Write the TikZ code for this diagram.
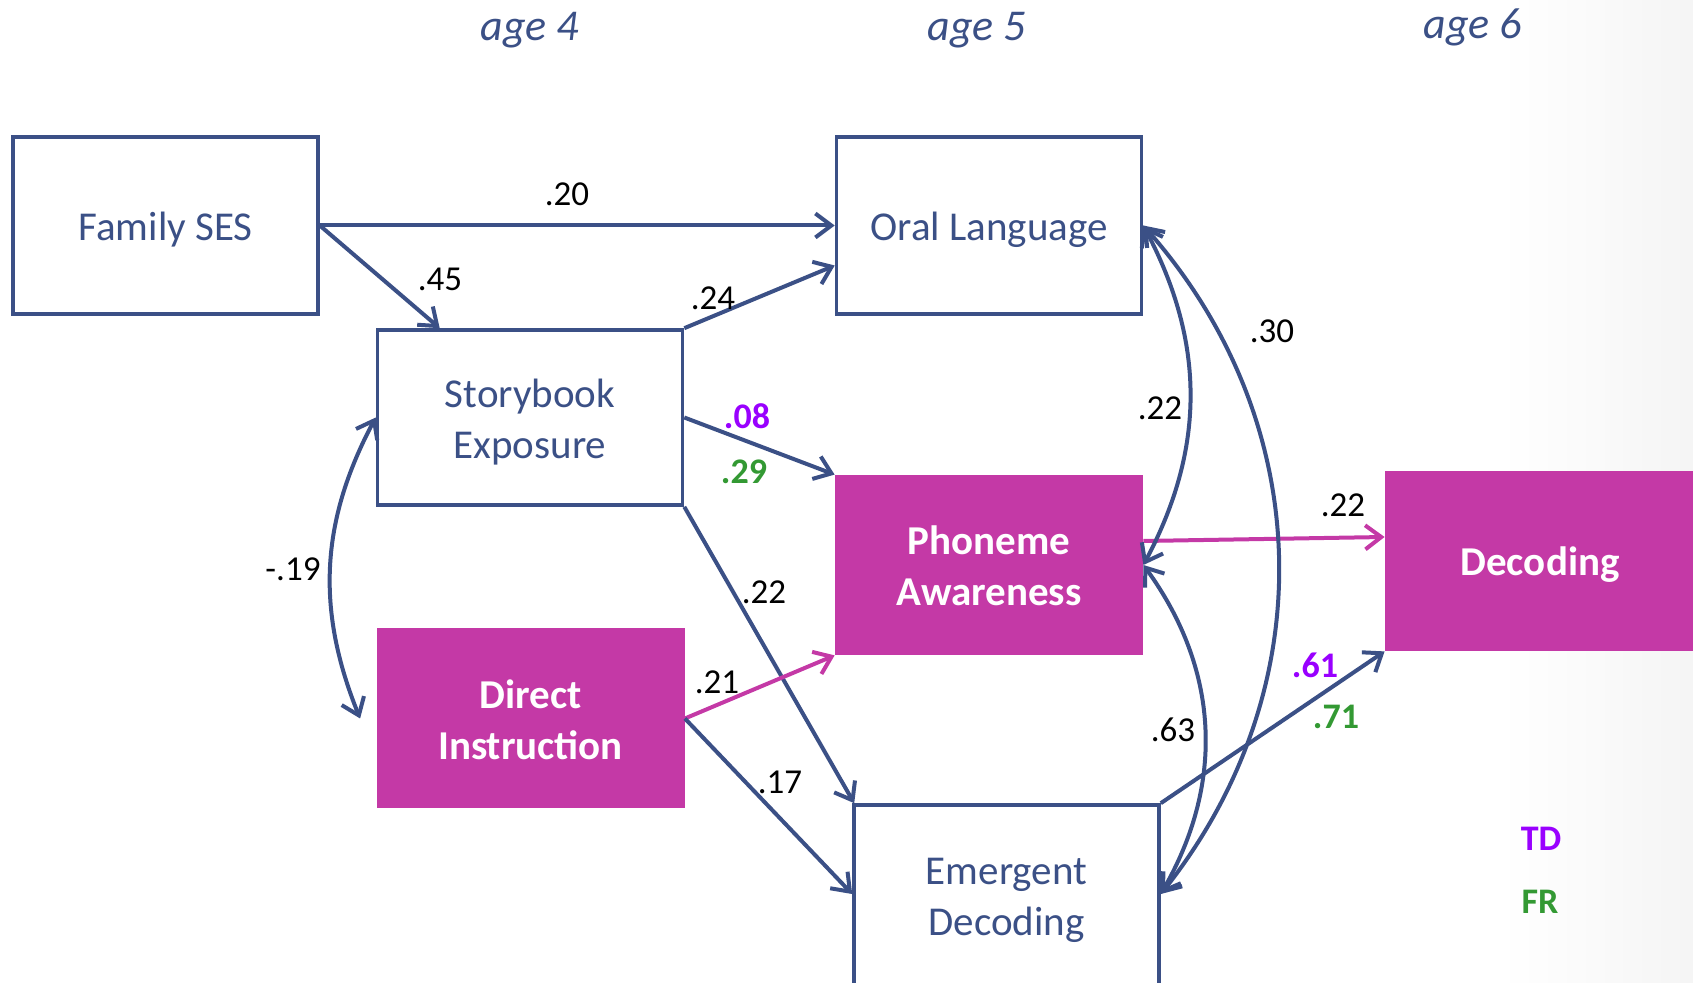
\documentclass[tikz,border=0pt]{standalone}
\usepackage{fontspec}
\setmainfont{Carlito}
\usepackage{tikz}
\usetikzlibrary{positioning, arrows.meta}

\definecolor{navy}{RGB}{59,80,134}
\definecolor{pink}{RGB}{196,57,166}
\definecolor{tdcol}{RGB}{153,0,255}
\definecolor{frcol}{RGB}{51,153,51}

\begin{document}
\begin{tikzpicture}[x=0.5pt,y=-0.5pt,
  >={Straight Barb[length=8pt,width=12pt]},
  box/.style={draw=navy, line width=1.8pt, fill=white, text=navy, align=center,
    font=\fontsize{20.5}{25.5}\selectfont, minimum width=152.5pt, minimum height=88.5pt, inner sep=0pt,
    text height=14.7pt, text depth=0pt},
  fbox/.style={fill=pink, text=white, align=center,
    font=\fontsize{20.5}{25.5}\selectfont\bfseries, minimum width=154pt, minimum height=90pt, inner sep=0pt,
    text height=14.7pt, text depth=0pt},
  two/.style={text height=40.7pt, text depth=0pt},
  link/.style={->, line width=2pt, navy},
  plink/.style={->, line width=2pt, pink},
  both/.style={<->, line width=2pt, navy},
  num/.style={font=\fontsize{17.5}{20}\selectfont},
  tdnum/.style={font=\fontsize{18}{20}\selectfont\bfseries, text=tdcol},
  frnum/.style={font=\fontsize{18}{20}\selectfont\bfseries, text=frcol},
  age/.style={font=\fontsize{22}{26}\selectfont\itshape, text=navy}]
\useasboundingbox (0,0) rectangle (1693,983);
\clip (0,0) rectangle (1693,983);
% faint shade at the right edge
\shade[left color=white, right color=black!4] (1500,0) rectangle (1693,983);

\node[age] (a4) at (530,30) {age 4};
\node[age] (a5) at (977,30) {age 5};
\node[age] (a6) at (1473,27) {age 6};

\node[box] (fam) at (165.5,225.5) {Family SES};
\node[box] (oral) at (989,225.5) {Oral Language};
\node[box, two, minimum height=87.5pt] (story) at (530,417.5) {Storybook\\Exposure};
\node[fbox, two] (phon) at (989,565) {Phoneme\\Awareness};
\node[fbox, two] (direct) at (530.5,718.5) {Direct\\Instruction};
\node[fbox, minimum width=155pt] (dec) at (1540,561) {Decoding};
\node[box, two, text height=30.2pt, minimum height=100pt] (emerg) at (1006.5,905) {Emergent\\Decoding};

\draw[link] (fam.east) -- (oral.west);
\draw[link] (fam.east) -- ([xshift=32pt]story.north west);
\draw[link] (story.north east) -- ([yshift=-20pt]oral.west);
\draw[link] (story.east) -- (phon.north west);
\draw[link] (story.south east) -- ([xshift=1pt]emerg.north west);
\draw[plink] (direct.east) -- (phon.south west);
\draw[link] (direct.east) -- ([yshift=5.5pt]emerg.west);
\draw[link] (emerg.north east) -- (dec.south west);
\draw[plink] ([yshift=12pt]phon.east) -- ([yshift=12pt]dec.west);

\draw[both] (story.west) to[bend right=25] ([xshift=-8pt]direct.west);
\draw[both] (oral.east) to[bend left=28] (phon.east);
\draw[both] (oral.east) to[bend left=40] ([yshift=5.5pt]emerg.east);
\draw[both] (phon.east) to[bend left=33] ([yshift=5.5pt]emerg.east);

\node[num] (w1) at (567,194) {.20};
\node[num] (w2) at (440,279) {.45};
\node[num] (w3) at (713,298) {.24};
\node[tdnum] (w4) at (747,416) {.08};
\node[frnum] (w5) at (744,472) {.29};
\node[num] (w6) at (764,592) {.22};
\node[num] (w7) at (717,682) {.21};
\node[num] (w8) at (780,782) {.17};
\node[num] (w9) at (293,569) {-.19};
\node[num] (w10) at (1160,408) {.22};
\node[num] (w11) at (1272,331) {.30};
\node[num] (w12) at (1173,730) {.63};
\node[num] (w13) at (1343,505) {.22};
\node[tdnum] (w14) at (1315,665) {.61};
\node[frnum] (w15) at (1336,717) {.71};

\node[tdnum] (td) at (1541,839) {TD};
\node[frnum] (fr) at (1540,902) {FR};
\end{tikzpicture}
\end{document}
